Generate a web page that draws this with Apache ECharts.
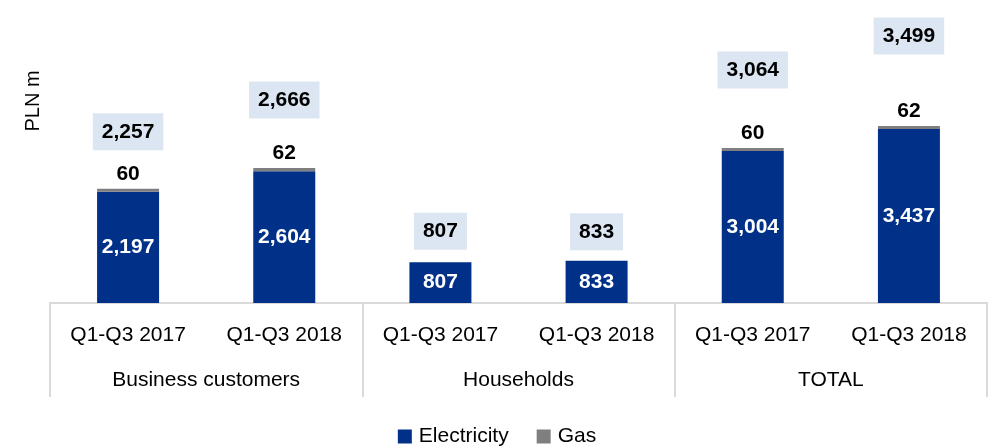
<!DOCTYPE html>
<html>
<head>
<meta charset="utf-8">
<script src="https://cdn.jsdelivr.net/npm/echarts@6/dist/echarts.min.js"></script>
<style>
html, body { margin: 0; padding: 0; background: #fff; }
#chart { width: 994px; height: 446px; }
</style>
</head>
<body>
<div id="chart"></div>
<script>
// data
var periods = ['Q1-Q3 2017', 'Q1-Q3 2018', 'Q1-Q3 2017', 'Q1-Q3 2018', 'Q1-Q3 2017', 'Q1-Q3 2018'];
var groups = ['Business customers', 'Households', 'TOTAL'];
var electricity = [2197, 2604, 807, 833, 3004, 3437];
var gas = [60, 62, 0, 0, 60, 62];
var totals = [2257, 2666, 807, 833, 3064, 3499];
// how far (px) each total box sits above its bar
var totalOffsets = [-57, -68, -31, -29, -78, -90];

var FONT = '"Liberation Sans", Arial, sans-serif';
function fmt(v) { return v.toLocaleString('en-US'); }

var chart = echarts.init(document.getElementById('chart'));

chart.setOption({
    backgroundColor: '#fff',
    animation: false,
    color: ['#003087', '#7f7f7f'],
    textStyle: { fontFamily: FONT },
    grid: { left: 50, right: 7, top: 50, bottom: 143 },
    legend: {
        data: ['Electricity', 'Gas'],
        top: 421,
        left: 'center',
        icon: 'rect',
        itemWidth: 14,
        itemHeight: 14,
        itemGap: 28,
        textStyle: { fontSize: 21, color: '#000', fontFamily: FONT, padding: [0, 0, 0, 2] }
    },
    graphic: [{
        type: 'text',
        x: 33,
        y: 101,
        rotation: Math.PI / 2,
        style: {
            text: 'PLN m',
            font: '20px ' + FONT,
            fill: '#000',
            textAlign: 'center',
            textVerticalAlign: 'middle'
        }
    }],
    xAxis: [
        {
            type: 'category',
            data: periods,
            axisLine: { lineStyle: { color: '#d9d9d9', width: 2 } },
            axisTick: { show: false },
            axisLabel: { color: '#000', fontSize: 21, margin: 22, interval: 0 }
        },
        {
            type: 'category',
            data: groups,
            position: 'bottom',
            axisLine: { show: false },
            axisTick: { show: true, length: 94, lineStyle: { color: '#d9d9d9', width: 2 } },
            axisLabel: { color: '#000', fontSize: 21, margin: 67, interval: 0 }
        }
    ],
    yAxis: { type: 'value', min: 0, max: 5000, show: false },
    series: [
        {
            name: 'Electricity',
            type: 'bar',
            stack: 'a',
            barWidth: 62,
            data: electricity,
            label: {
                show: true,
                position: 'inside',
                color: '#fff',
                fontSize: 21,
                fontWeight: 'bold',
                formatter: function (p) { return fmt(p.value); }
            }
        },
        {
            name: 'Gas',
            type: 'bar',
            stack: 'a',
            barWidth: 62,
            data: gas,
            label: {
                show: true,
                position: 'top',
                distance: 4,
                color: '#000',
                fontSize: 21,
                fontWeight: 'bold',
                formatter: function (p) { return p.value ? fmt(p.value) : ''; }
            }
        },
        {
            name: 'Total',
            type: 'scatter',
            symbol: 'rect',
            symbolSize: 1,
            itemStyle: { color: '#fff', opacity: 0 },
            data: totals.map(function (v, i) {
                return { value: v, label: { offset: [0, totalOffsets[i]] } };
            }),
            label: {
                show: true,
                position: 'inside',
                color: '#000',
                opacity: 1,
                textBorderWidth: 0,
                fontSize: 21,
                fontWeight: 'bold',
                backgroundColor: '#dce6f2',
                padding: [8, 9, 8, 9],
                formatter: function (p) { return fmt(p.value); }
            }
        }
    ]
});
</script>
</body>
</html>
